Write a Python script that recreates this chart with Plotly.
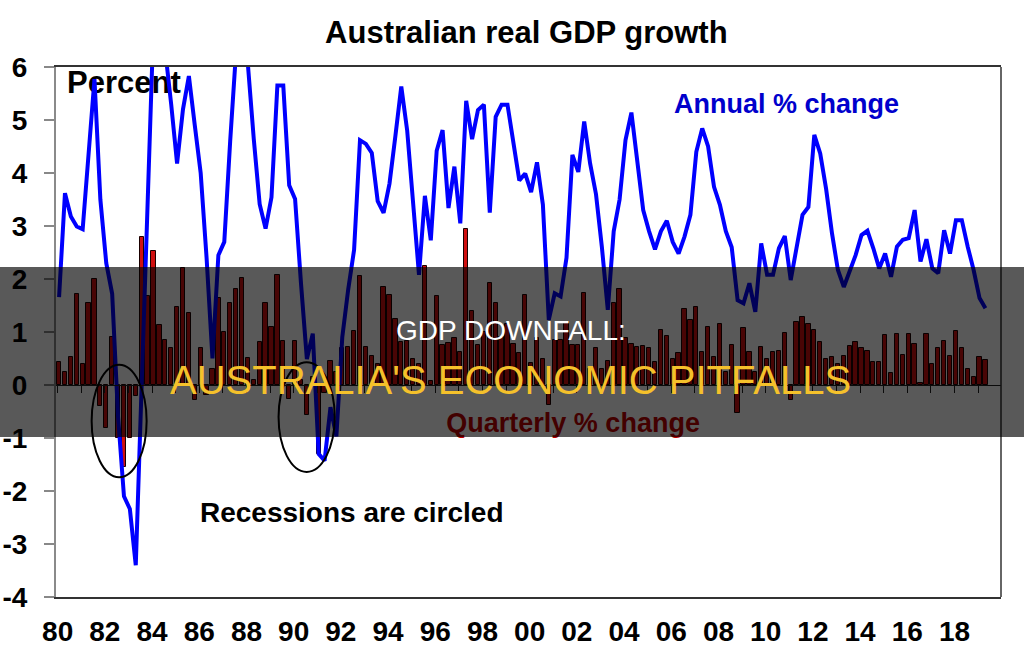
import plotly.graph_objects as go

# ---------------- data ----------------
start_year = 1980
quarterly_pct = [
    0.44, 0.25, 0.53, 1.71, 0.39, 1.55, 2.00, -0.40, -0.82, 0.91,
    -1.00, -1.55, -1.00, -0.20, 2.80, 1.67, 2.52, 1.13, 0.85, 0.70,
    1.47, 2.21, 1.35, -0.28, 0.69, -0.19, 0.30, 1.65, 1.00, 1.55,
    1.81, 2.01, 0.51, 0.10, 0.81, 1.55, 1.09, 2.08, 0.83, -0.26,
    0.83, 0.10, -0.56, 0.15, -1.30, -0.16, 0.45, 0.25, 0.69, 0.72,
    1.02, 2.06, 0.72, 0.55, 0.40, 1.85, 1.69, 1.25, 0.82, 0.83,
    0.50, 0.40, 2.25, 0.08, 1.67, 0.75, 0.80, 0.88, 0.63, 2.95,
    1.40, 0.75, 1.00, 1.93, 1.54, 0.91, 1.16, 0.77, 0.60, 1.69,
    0.41, 0.88, 0.50, -0.38, 0.85, 0.85, 1.19, 0.75, 0.75, 1.74,
    0.31, 0.69, 0.30, 0.45, 1.55, 1.82, 0.88, 0.77, 0.72, 0.74,
    0.69, 0.43, 1.04, 0.92, 0.50, 0.60, 1.43, 1.23, 1.48, 0.63,
    1.10, 0.52, 1.15, 0.24, 0.75, -0.53, 1.08, 0.62, 0.24, 0.72,
    0.50, 0.63, 0.65, 0.99, -0.28, 1.18, 1.28, 1.15, 1.04, 0.82,
    0.50, 0.53, 0.40, 0.55, 0.74, 0.82, 0.70, 0.64, 0.44, 0.43,
    0.94, 0.23, 0.97, 0.57, 0.97, 0.77, 0.03, 0.97, 0.39, 0.70,
    0.83, 0.55, 1.02, 0.70, 0.30, 0.16, 0.53, 0.48,
]
annual_pct = [
    1.66, 3.62, 3.18, 2.99, 2.94, 4.30, 5.77, 3.50, 2.30, 1.72,
    -0.60, -2.10, -2.34, -3.40, 0.10, 3.40, 6.80, 7.60, 6.30, 5.30,
    4.18, 5.20, 5.83, 4.90, 4.00, 2.40, 0.50, 2.45, 2.70, 4.60,
    6.30, 6.60, 6.05, 4.64, 3.41, 2.95, 3.54, 5.65, 5.65, 3.77,
    3.51, 1.92, 0.49, 0.97, -1.30, -1.43, -0.42, -0.97, 0.90, 1.80,
    2.55, 4.62, 4.55, 4.38, 3.47, 3.25, 3.80, 4.70, 5.63, 4.80,
    3.50, 2.08, 3.57, 2.73, 4.42, 4.81, 3.34, 4.12, 3.05, 5.36,
    4.64, 5.19, 5.29, 3.25, 5.06, 5.29, 5.29, 4.51, 3.86, 3.99,
    3.64, 4.20, 3.40, 1.23, 1.73, 1.67, 2.40, 4.34, 4.02, 4.97,
    4.18, 3.60, 2.60, 1.42, 2.90, 3.50, 4.62, 5.14, 4.25, 3.30,
    2.90, 2.56, 2.90, 3.10, 2.70, 2.48, 2.80, 3.21, 4.40, 4.84,
    4.50, 3.74, 3.40, 2.90, 2.60, 1.60, 1.54, 1.92, 1.38, 2.67,
    2.08, 2.08, 2.58, 2.81, 1.98, 2.60, 3.21, 3.36, 4.72, 4.37,
    3.70, 2.86, 2.17, 1.85, 2.14, 2.45, 2.83, 2.91, 2.58, 2.20,
    2.48, 2.04, 2.61, 2.74, 2.77, 3.30, 2.33, 2.75, 2.20, 2.11,
    2.92, 2.48, 3.11, 3.11, 2.61, 2.17, 1.64, 1.45,
]
tick_years = list(range(1980, 2019, 2))
tick_labels = [f"{y % 100:02d}" for y in tick_years]
y_ticks = list(range(-4, 7))
y_tick_labels = [str(v) for v in y_ticks]  # plain hyphen-minus like the reference

# quarter positions on the time axis
quarter_x = [start_year + i / 4 + 0.06 for i in range(len(quarterly_pct))]

FONT = "Liberation Sans, Arial, sans-serif"
XR = [1979.93, 2019.97]

fig = go.Figure()

# quarterly bars
fig.add_trace(go.Bar(
    x=quarter_x, y=quarterly_pct, width=0.18,
    marker=dict(color="#d01010", line=dict(color="#1a0000", width=1)),
    xaxis="x", yaxis="y", hoverinfo="skip", showlegend=False,
))
# "Percent" label (under the line)
fig.add_trace(go.Scatter(
    x=[1980.40], y=[5.66], mode="text", text=["Percent"], textposition="middle right",
    textfont=dict(family=FONT, size=31, color="black", weight="bold"),
    xaxis="x", yaxis="y", hoverinfo="skip", showlegend=False,
))
# "Quarterly % change" label (under the band)
fig.add_trace(go.Scatter(
    x=[2001.84], y=[-0.76], mode="text", text=["Quarterly % change"],
    textposition="middle center",
    textfont=dict(family=FONT, size=27, color="#c00000", weight="bold"),
    xaxis="x", yaxis="y", hoverinfo="skip", showlegend=False,
))
# annual line
fig.add_trace(go.Scatter(
    x=quarter_x, y=annual_pct, mode="lines",
    line=dict(color="#0000ff", width=4),
    xaxis="x2", yaxis="y", hoverinfo="skip", showlegend=False,
))

fig.update_layout(
    width=1024, height=667,
    margin=dict(l=56, r=23, t=67, b=70, autoexpand=False),
    paper_bgcolor="white", plot_bgcolor="white",
    bargap=0,
    title=dict(text="Australian real GDP growth", x=0.514, xanchor="center",
               y=1 - 32 / 667, yanchor="middle", yref="container",
               font=dict(family=FONT, size=31, color="black", weight="bold")),
    xaxis=dict(range=XR, showgrid=False, zeroline=False, automargin=False,
               tickmode="array", tickvals=tick_years, ticktext=tick_labels,
               ticks="", ticklabelstandoff=9,
               tickfont=dict(family=FONT, size=28, color="black", weight="bold"),
               showline=True, linecolor="#333333", linewidth=1.5, mirror=True),
    xaxis2=dict(range=XR, overlaying="x", anchor="free", position=0.4,
                automargin=False,
                showgrid=False, zeroline=False, showticklabels=False,
                tickmode="linear", tick0=1980, dtick=1,
                ticks="outside", ticklen=7, tickcolor="#222222", tickwidth=1,
                showline=True, linecolor="#222222", linewidth=1),
    yaxis=dict(range=[-4, 6], tickmode="array", tickvals=y_ticks, ticktext=y_tick_labels,
               showgrid=False, zeroline=False, automargin=False,
               ticks="outside", ticklen=10, tickcolor="#888888", tickwidth=1.5,
               ticklabelstandoff=11,
               tickfont=dict(family=FONT, size=28, color="black", weight="bold"),
               showline=True, linecolor="#8a8a8a", linewidth=2),
)

# right border
fig.add_shape(type="line", xref="paper", yref="paper", x0=1, x1=1, y0=0, y1=1,
              line=dict(color="#333333", width=1.5), layer="above")
# recession ellipses
fig.add_shape(type="circle", xref="x", yref="y", x0=1981.44, x1=1983.77,
              y0=-1.74, y1=0.38, line=dict(color="black", width=2), layer="above")
fig.add_shape(type="circle", xref="x", yref="y", x0=1989.36, x1=1991.74,
              y0=-1.64, y1=0.43, line=dict(color="black", width=2), layer="above")
# dark translucent band across the page
fig.add_shape(type="rect", xref="paper", yref="paper", x0=-0.2, x1=1.2,
              y0=(597 - 437) / 530, y1=(597 - 267) / 530,
              fillcolor="rgba(0,0,0,0.65)", line=dict(width=0), layer="above")

fig.add_annotation(x=2010.9, y=5.30, xref="x", yref="y", text="Annual % change",
                   showarrow=False, xanchor="center", yanchor="middle",
                   font=dict(family=FONT, size=27, color="#0000cc", weight="bold"))
fig.add_annotation(x=1992.48, y=-2.40, xref="x", yref="y", text="Recessions are circled",
                   showarrow=False, xanchor="center", yanchor="middle",
                   font=dict(family=FONT, size=28, color="black", weight="bold"))
fig.add_annotation(x=(511 - 56) / 945, y=(597 - 330) / 530, xref="paper", yref="paper",
                   text="GDP DOWNFALL:", showarrow=False, xanchor="center", yanchor="middle",
                   font=dict(family=FONT, size=28, color="white"))
fig.add_annotation(x=(510 - 56) / 945, y=(597 - 380) / 530, xref="paper", yref="paper",
                   text="AUSTRALIA'S ECONOMIC PITFALLS", showarrow=False,
                   xanchor="center", yanchor="middle",
                   font=dict(family=FONT, size=40, color="#f5c12b"))

fig.write_html("out.html")
